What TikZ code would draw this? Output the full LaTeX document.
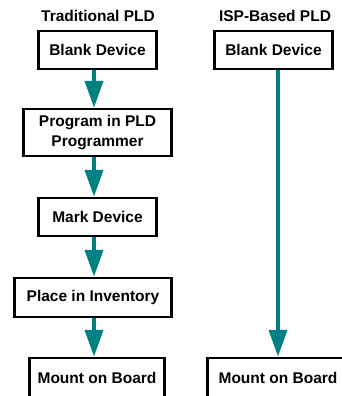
\documentclass[tikz,border=0pt]{standalone}
\usepackage{fontspec}
\setmainfont{Liberation Sans}
\usetikzlibrary{arrows.meta}
\definecolor{flowteal}{RGB}{0,128,128}

\begin{document}
\begin{tikzpicture}[x=1pt,y=-1pt,
  stepbox/.style={draw,line width=2.5pt,align=center,inner sep=0pt,
    font=\bfseries\fontsize{15.5}{20}\selectfont},
  coltitle/.style={font=\bfseries\fontsize{15.5}{18}\selectfont},
  flow/.style={draw=flowteal,line width=4pt,-{Triangle[width=18pt,length=27pt]}}]
\useasboundingbox (0,0) rectangle (342,396);
\clip (0,0) rectangle (342,396);
% ---- traditional flow ----
\node[coltitle] (tradtitle) at (98,16) {Traditional PLD};
\node[stepbox,minimum width=118,minimum height=38] (tblank) at (97.5,50) {Blank Device};
\node[stepbox,minimum width=148,minimum height=47] (tprog) at (97.5,132.5) {Program in PLD\\Programmer};
\node[stepbox,minimum width=118,minimum height=38] (tmark) at (97.5,217) {Mark Device};
\node[stepbox,minimum width=157,minimum height=39] (tstock) at (93,297.5) {Place in Inventory};
\node[stepbox,minimum width=135,minimum height=40] (tmount) at (97,378) {Mount on Board};
\coordinate (tspine) at (94,0);
\draw[flow] (tblank.south -| tspine) -- (tprog.north -| tspine);
\draw[flow] (tprog.south -| tspine) -- (tmark.north -| tspine);
\draw[flow] (tmark.south -| tspine) -- (tstock.north -| tspine);
\draw[flow] (tstock.south -| tspine) -- (tmount.north -| tspine);
% ---- ISP flow ----
\node[coltitle] (isptitle) at (275,16) {ISP-Based PLD};
\node[stepbox,minimum width=118,minimum height=38] (iblank) at (273.5,50) {Blank Device};
\node[stepbox,minimum width=141,minimum height=40] (imount) at (278,378) {Mount on Board};
\coordinate (ispine) at (278,0);
\draw[flow] (iblank.south -| ispine) -- (imount.north -| ispine);
\end{tikzpicture}
\end{document}
